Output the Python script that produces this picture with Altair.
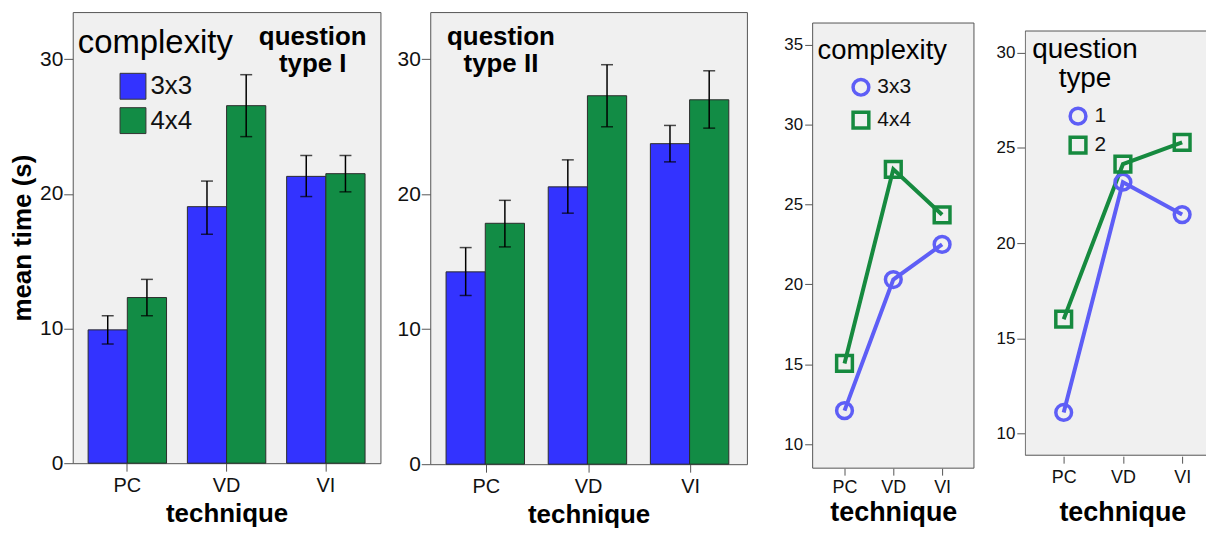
import altair as alt
import pandas as pd

FONT = "Liberation Sans"

techniques = ["PC", "VD", "VI"]
complexities = ["3x3", "4x4"]
qtypes = ["1", "2"]

# Panel 1: question type I (mean time, error bar low / high)
q1_mean_3x3 = [9.9, 19.05, 21.3]
q1_mean_4x4 = [12.3, 26.55, 21.5]
q1_lo_3x3 = [8.85, 17.0, 19.8]
q1_hi_3x3 = [10.95, 20.95, 22.85]
q1_lo_4x4 = [10.95, 24.25, 20.15]
q1_hi_4x4 = [13.65, 28.85, 22.85]

# Panel 2: question type II
q2_mean_3x3 = [14.25, 20.55, 23.75]
q2_mean_4x4 = [17.85, 27.3, 27.0]
q2_lo_3x3 = [12.5, 18.6, 22.4]
q2_hi_3x3 = [16.05, 22.55, 25.1]
q2_lo_4x4 = [16.1, 25.0, 24.9]
q2_hi_4x4 = [19.55, 29.6, 29.15]

# Panel 3: by complexity
cx_3x3 = [12.1, 20.3, 22.5]
cx_4x4 = [15.05, 27.2, 24.35]

# Panel 4: by question type
qt_1 = [11.1, 23.2, 21.5]
qt_2 = [16.0, 24.15, 25.3]

BAR_BLUE = "#3333ff"
BAR_GREEN = "#128c45"
LINE_BLUE = "#5e5ef6"
LINE_GREEN = "#168a3f"
PANEL_FILL = "#f0f0f0"
PANEL_STROKE = "#555555"
SQUARE_PATH = "M-1,-1H1V1H-1Z"

ONE = pd.DataFrame({"k": [0]})


def bar_df(m3, m4, lo3, hi3, lo4, hi4):
    rows = []
    for i, t in enumerate(techniques):
        rows.append({"technique": t, "complexity": "3x3", "mean": m3[i], "lo": lo3[i], "hi": hi3[i]})
        rows.append({"technique": t, "complexity": "4x4", "mean": m4[i], "lo": lo4[i], "hi": hi4[i]})
    return pd.DataFrame(rows)


def bar_panel(df, width, height, y_title, extent, legend, lines, text_x, text_y):
    x = alt.X(
        "technique:N", sort=techniques,
        scale=alt.Scale(paddingInner=0.21, paddingOuter=0.155),
        axis=alt.Axis(title="technique", labelAngle=0, domain=False, tickSize=8, tickColor="#555",
                      labelPadding=4, labelFontSize=20, labelColor="#111", labelFont=FONT,
                      titleFont=FONT, titleFontSize=26, titleFontWeight="bold", titleColor="#000",
                      titlePadding=6),
    )
    xo = alt.XOffset("complexity:N", sort=complexities, scale=alt.Scale(paddingInner=0, paddingOuter=0))

    def yenc(field):
        return alt.Y(
            field, scale=alt.Scale(domain=[0, 33.5], nice=False, zero=True),
            axis=alt.Axis(values=[0, 10, 20, 30], title=y_title, grid=False, domain=False,
                          tickSize=9, tickColor="#555", labelPadding=1, labelFontSize=21,
                          labelColor="#111", labelFont=FONT, titleFont=FONT, titleFontSize=26,
                          titleFontWeight="bold", titleColor="#000", titlePadding=0,
                          minExtent=extent, maxExtent=extent),
        )

    color = alt.Color("complexity:N", scale=alt.Scale(domain=complexities, range=[BAR_BLUE, BAR_GREEN]),
                      legend=legend)
    base = alt.Chart(df)
    bars = base.mark_bar(stroke="#2b2b2b", strokeWidth=1).encode(x=x, xOffset=xo, y=yenc("mean:Q"), color=color)
    rules = base.mark_rule(color="#000", strokeWidth=1.5).encode(x=x, xOffset=xo, y=yenc("lo:Q"), y2="hi:Q")
    cap_lo = base.mark_tick(color="#000", size=12, thickness=1.5).encode(x=x, xOffset=xo, y=yenc("lo:Q"))
    cap_hi = base.mark_tick(color="#000", size=12, thickness=1.5).encode(x=x, xOffset=xo, y=yenc("hi:Q"))
    note = alt.Chart(ONE).mark_text(
        text=lines, font=FONT, fontSize=26, fontWeight="bold", align="center", baseline="alphabetic",
        lineHeight=27, color="#000",
    ).encode(x=alt.value(text_x), y=alt.value(text_y))
    return alt.layer(bars, rules, cap_lo, cap_hi, note).properties(
        width=width, height=height,
        view=alt.ViewBackground(fill=PANEL_FILL, stroke=PANEL_STROKE, strokeWidth=1),
    )


df1 = bar_df(q1_mean_3x3, q1_mean_4x4, q1_lo_3x3, q1_hi_3x3, q1_lo_4x4, q1_hi_4x4)
df2 = bar_df(q2_mean_3x3, q2_mean_4x4, q2_lo_3x3, q2_hi_3x3, q2_lo_4x4, q2_hi_4x4)

legend1 = alt.Legend(title=None, orient="none", legendX=47, legendY=61, symbolType="square",
                     symbolSize=676, symbolStrokeColor="#333", symbolStrokeWidth=1,
                     labelFontSize=26, labelFont=FONT, labelColor="#111", labelOffset=4,
                     rowPadding=3.5, padding=0)

p1 = bar_panel(df1, 309, 453, "mean time (s)", 37, legend1, ["question", "type I"], 241, 33)
p1_title = alt.Chart(ONE).mark_text(
    text="complexity", font=FONT, fontSize=33, align="left", baseline="alphabetic", color="#000"
).encode(x=alt.value(5), y=alt.value(41.5))
p1 = alt.layer(p1, p1_title)

p2 = bar_panel(df2, 318, 454, None, 48, None, ["question", "type II"], 71, 33)


def line_df(field, cats, s1, s2):
    rows = []
    for c, s in zip(cats, [s1, s2]):
        for i, t in enumerate(techniques):
            rows.append({"technique": t, field: c, "series": c, "value": s[i]})
    return pd.DataFrame(rows)


def line_panel(df, field, cats, width, height, domain, box, yvals, extent, pad, align,
               leg_x, leg_y, row_pad, label_pad, title_pad, title_x, clip_right):
    x = alt.X(
        "technique:N", sort=techniques, scale=alt.Scale(type="point", padding=pad, align=align),
        axis=alt.Axis(title="technique", labelAngle=0, domain=False, tickSize=7, tickColor="#555",
                      labelPadding=label_pad, labelFontSize=18, labelColor="#111", labelFont=FONT,
                      titleFont=FONT, titleFontSize=27, titleFontWeight="bold", titleColor="#000",
                      titlePadding=title_pad, titleX=title_x),
    )
    yscale = alt.Scale(domain=domain, nice=False, zero=False)
    yaxis = alt.Axis(values=yvals, title=None, grid=False, domain=False, tickSize=8, tickColor="#555",
                     labelPadding=2, labelFontSize=17, labelColor="#111", labelFont=FONT,
                     minExtent=extent, maxExtent=extent)
    y = alt.Y("value:Q", scale=yscale, axis=yaxis)
    leg = alt.Legend(title=None, orient="none", legendX=leg_x, legendY=leg_y, symbolSize=250,
                     symbolStrokeWidth=3.5, labelFontSize=21, labelFont=FONT, labelColor="#111",
                     labelOffset=6, rowPadding=row_pad, padding=0)
    # grey panel box, spanning the visible value range of the panel
    frame = alt.Chart(ONE).mark_rect(
        fill=PANEL_FILL, stroke=PANEL_STROKE, strokeWidth=1, clip=clip_right
    ).encode(
        x=alt.value(0.5 if clip_right else 0),
        x2=alt.value(width + 20 if clip_right else width),
        y=alt.Y(datum=box[1], type="quantitative", scale=yscale, axis=yaxis),
        y2=alt.Y2(datum=box[0]),
    )
    base = alt.Chart(df)
    # line colours: data-driven domain (different from the legend scale so legends are not merged)
    line = base.mark_line(strokeWidth=4).encode(
        x=x, y=y,
        stroke=alt.Stroke("series:N", sort=cats, scale=alt.Scale(range=[LINE_BLUE, LINE_GREEN]),
                          legend=None),
    )
    pts = base.mark_point(filled=False, strokeWidth=3.5, size=250, opacity=1).encode(
        x=x, y=y,
        color=alt.Color(f"{field}:N", scale=alt.Scale(domain=cats, range=[LINE_BLUE, LINE_GREEN]), legend=leg),
        shape=alt.Shape(f"{field}:N", scale=alt.Scale(domain=cats, range=["circle", SQUARE_PATH]), legend=leg),
    )
    return alt.layer(frame, line, pts).properties(
        width=width, height=height,
        view=alt.ViewBackground(fill="transparent", stroke="transparent", strokeWidth=0),
    )


df3 = line_df("complexity", complexities, cx_3x3, cx_4x4)
df4 = line_df("qtype", qtypes, qt_1, qt_2)

# panel 3: box 8.5 .. 36.35, view extends 11 px above the box
p3 = line_panel(df3, "complexity", complexities, 162, 458, [8.5, 37.035], [8.5, 36.35],
                [10, 15, 20, 25, 30, 35], 65, 0.653, 0.5, 38, 65, 2, 3, 4, 81, False)
p3_title = alt.Chart(ONE).mark_text(
    text="complexity", font=FONT, fontSize=27.5, align="left", baseline="alphabetic", color="#000"
).encode(x=alt.value(5), y=alt.value(47.5))
p3 = alt.layer(p3, p3_title)

# panel 4: box 8.85 .. 31.15, view extends 19 px above the box
p4 = line_panel(df4, "qtype", qtypes, 182, 446, [8.798, 32.145], [8.85, 31.15],
                [10, 15, 20, 25, 30], 50, 0.53, 0.62, 43, 94, -2, 5, 14, 98, True)
p4_title = alt.Chart(ONE).mark_text(
    text=["question", "type"], font=FONT, fontSize=28, align="center", baseline="alphabetic",
    lineHeight=29, color="#000"
).encode(x=alt.value(60.5), y=alt.value(46))
p4 = alt.layer(p4, p4_title)

chart = alt.hconcat(p1, p2, p3, p4, spacing=0).resolve_scale(
    color="independent", shape="independent", stroke="independent"
).resolve_legend(
    color="independent", shape="independent", stroke="independent"
).configure(
    padding={"left": 1, "top": 2, "right": 0, "bottom": 0}, font=FONT
)

chart.save("out.html", embed_options={"renderer": "svg", "actions": False})
